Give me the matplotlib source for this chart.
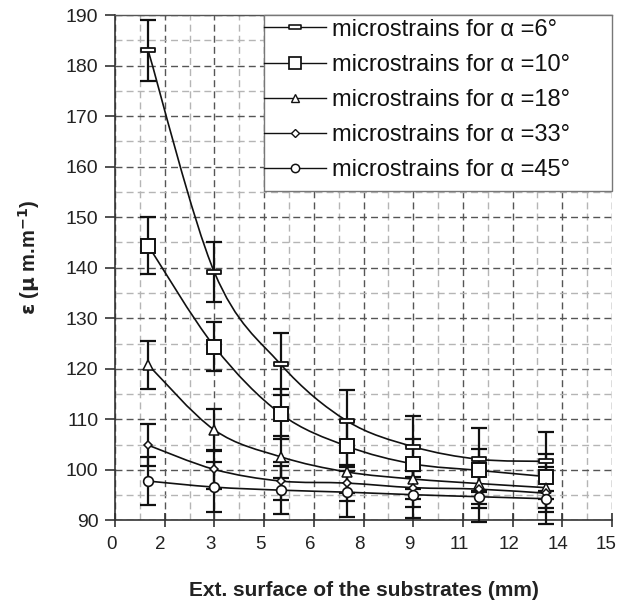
import numpy as np
import matplotlib
matplotlib.use("Agg")
import matplotlib.pyplot as plt
import matplotlib.transforms as mtransforms
from matplotlib.path import Path
from matplotlib.patches import PathPatch, Rectangle
from matplotlib.lines import Line2D

plt.rcParams['font.family'] = ['Liberation Sans', 'DejaVu Sans']

# --- data ---
x_pos = [1, 3, 5, 7, 9, 11, 13]
eps_a6 = [183.0, 139.1, 120.9, 109.7, 104.6, 102.1, 101.7]
eps_a10 = [144.4, 124.4, 111.1, 104.7, 101.2, 99.9, 98.7]
eps_a18 = [120.8, 107.9, 102.6, 99.6, 98.2, 97.3, 96.5]
eps_a33 = [104.9, 100.1, 97.8, 97.4, 96.5, 96.2, 95.4]
eps_a45 = [97.8, 96.6, 96.0, 95.6, 95.1, 94.7, 94.3]
err_a6 = [6.0, 5.9, 6.1, 6.2, 6.0, 6.2, 5.8]
err_a10 = [5.6, 4.9, 4.9, 5.0, 5.0, 4.2, 4.5]
err_a18 = [4.8, 4.1, 4.2, 4.2, 4.0, 4.0, 4.0]
err_a33 = [4.1, 3.9, 3.8, 3.6, 3.8, 3.8, 3.8]
err_a45 = [4.8, 5.0, 4.8, 5.0, 4.7, 4.9, 4.9]
labels = ["microstrains for \u03b1 =6\u00b0", "microstrains for \u03b1 =10\u00b0",
          "microstrains for \u03b1 =18\u00b0", "microstrains for \u03b1 =33\u00b0",
          "microstrains for \u03b1 =45\u00b0"]
x_ticks = [0, 1.5, 3, 4.5, 6, 7.5, 9, 10.5, 12, 13.5, 15]
x_tick_labels = ["0", "2", "3", "5", "6", "8", "9", "11", "12", "14", "15"]
y_ticks = [90, 100, 110, 120, 130, 140, 150, 160, 170, 180, 190]

series = [eps_a6, eps_a10, eps_a18, eps_a33, eps_a45]
errors = [err_a6, err_a10, err_a18, err_a33, err_a45]

flat_rect = Path([(-1, -0.35), (1, -0.35), (1, 0.35), (-1, 0.35), (-1, -0.35)],
                 [1, 2, 2, 2, 79])
# marker, plot size, legend size, edge width
styles = [
    (flat_rect, 10, 9, 1.3),
    ('s', 10.5, 9, 1.4),
    ('^', 7, 6, 1.1),
    ('D', 4.2, 3.8, 1.1),
    ('o', 7, 6, 1.2),
]


def smooth_path(xs, ys):
    # Catmull-Rom through the points, as cubic Bezier segments (Excel-like smoothing)
    p = np.column_stack([xs, ys]).astype(float)
    pe = np.vstack([p[0], p, p[-1]])
    verts, codes = [tuple(p[0])], [Path.MOVETO]
    for i in range(len(p) - 1):
        p0, p1, p2, p3 = pe[i], pe[i + 1], pe[i + 2], pe[i + 3]
        verts += [tuple(p1 + (p2 - p0) / 6), tuple(p2 - (p3 - p1) / 6), tuple(p2)]
        codes += [Path.CURVE4] * 3
    return Path(verts, codes)


fig = plt.figure(figsize=(6.17, 6.02), dpi=100)
ax = fig.add_axes([0.1864, 0.1354, 0.8055, 0.8396])

ax.set_xlim(0, 15)
ax.set_ylim(90, 190)
ax.set_xticks(x_ticks)
ax.set_xticklabels(x_tick_labels)
ax.set_yticks(y_ticks)
ax.set_xticks(np.arange(0.75, 15, 1.5), minor=True)
ax.set_yticks(np.arange(95, 190, 10), minor=True)
ax.grid(True, which='major', color='#555555', ls=(0, (5, 3)), lw=1.0)
ax.grid(True, which='minor', color='#b5b5b5', ls=(0, (5, 3)), lw=1.0)
ax.set_axisbelow(True)
ax.tick_params(which='major', direction='inout', length=10, width=1.2, color='#333333',
               labelsize=13.5, labelcolor='#222222', pad=6)
ax.tick_params(which='minor', length=0)
ax.tick_params(axis='y', direction='out', length=7, pad=5, labelsize=14)
ax.spines['right'].set_visible(False)
ax.spines['top'].set_color('#555555')
ax.spines['top'].set_linewidth(1.0)
for s in ['left', 'bottom']:
    ax.spines[s].set_color('#333333')
    ax.spines[s].set_linewidth(1.2)
xlabs = ax.get_xticklabels()
for i, lab in enumerate(xlabs):
    dx = -6 if i == len(xlabs) - 1 else -4
    lab.set_transform(lab.get_transform() +
                      mtransforms.ScaledTranslation(dx / 100, 0, fig.dpi_scale_trans))

handles = []
for ys, es, (mk, ms, lms, mew) in zip(series, errors, styles):
    ax.add_patch(PathPatch(smooth_path(x_pos, ys), fc='none', ec='#111111', lw=1.2, zorder=3))
    ax.errorbar(x_pos, ys, yerr=es, fmt='none', ecolor='#111111', elinewidth=1.6,
                capsize=6, capthick=1.6, zorder=4, clip_on=False)
    ax.plot(x_pos, ys, ls='none', marker=mk, ms=ms, mew=mew,
            mfc='white', mec='#111111', zorder=5, clip_on=False)
    handles.append(Line2D([], [], color='#111111', lw=1.0, marker=mk, ms=lms,
                          mew=mew * 0.9, mfc='white', mec='#111111'))

# legend box drawn as a plain rectangle, legend itself frameless
ax.add_patch(Rectangle((0.2998, 0.652), 0.7002, 0.348, transform=ax.transAxes,
                       fc='white', ec='#777777', lw=1.0, zorder=6, clip_on=False))
leg = ax.legend(handles, labels, loc='upper left', bbox_to_anchor=(0.3, 0.993),
                frameon=False, fontsize=17, handlelength=2.63, handletextpad=0.25,
                labelspacing=0.56, borderpad=0, borderaxespad=0)
leg.set_zorder(7)
for t in leg.get_texts():
    t.set_color('#111111')

ax.set_xlabel("Ext. surface of the substrates (mm)", fontsize=15, fontweight='bold',
              color='#222222', labelpad=20)
ax.set_ylabel(r"$\mathbf{\varepsilon}$ ($\mathbf{\mu}$ m.m$^{\mathbf{-1}}$)", fontsize=14.5,
              fontweight='bold', color='#222222')
ax.yaxis.set_label_coords(-0.147, 0.521)

fig.savefig("out.png", dpi=100)
